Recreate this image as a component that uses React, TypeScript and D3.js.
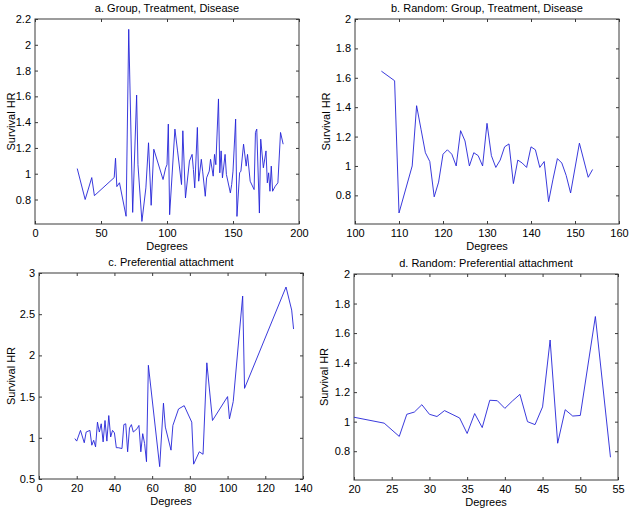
import React, { useEffect, useRef } from 'react'
import * as d3 from 'd3'

// a. Group, Treatment, Disease
const degreesA = [32, 38, 43, 45, 60, 61, 62, 64, 69, 71, 74, 77, 78, 81, 84, 86, 88, 90, 97, 99, 100, 101, 102, 106, 108, 111, 112, 114, 117, 119, 120, 121, 123, 124, 126, 127, 129, 130, 132, 133, 135, 136, 137, 139, 140, 141, 142, 144, 145, 148, 149, 150, 152, 153, 155, 156, 158, 160, 161, 163, 166, 167, 168, 170, 171, 173, 175, 176, 177, 178, 179, 180, 182, 184, 186, 188]
const hrA = [1.04, 0.8, 0.97, 0.83, 0.97, 1.12, 0.9, 0.93, 0.67, 2.12, 0.7, 1.61, 1.07, 0.63, 0.89, 1.24, 0.755, 1.19, 0.955, 1.046, 1.07, 1.385, 0.682, 1.346, 1.177, 0.916, 1.333, 0.812, 1.098, 1.15, 1.033, 0.89, 1.359, 0.942, 1.112, 1.02, 0.825, 0.968, 1.02, 1.112, 0.981, 1.15, 1.07, 1.58, 1.007, 1.177, 0.968, 1.15, 0.994, 0.851, 0.916, 1.02, 1.424, 0.669, 1.007, 1.02, 1.229, 1.059, 1.15, 0.942, 0.877, 1.32, 1.346, 0.695, 1.268, 1.046, 1.177, 0.929, 1.007, 0.864, 1.059, 0.864, 0.903, 0.929, 1.32, 1.229]

// b. Random: Group, Treatment, Disease
const degreesB = [106, 109, 110, 113, 114, 115, 116, 117, 118, 119, 120, 121, 122, 123, 124, 125, 126, 127, 128, 129, 130, 131, 132, 133, 134, 135, 136, 137, 138, 139, 140, 141, 142, 143, 144, 145, 146, 147, 148, 149, 151, 153, 154]
const hrB = [1.645, 1.58, 0.68, 1.0, 1.41, 1.25, 1.09, 1.03, 0.79, 0.89, 1.08, 1.11, 1.08, 1.0, 1.24, 1.17, 1.0, 1.09, 1.07, 1.0, 1.29, 1.07, 0.99, 1.04, 1.13, 1.15, 0.88, 1.04, 1.02, 0.99, 1.13, 1.11, 0.99, 1.03, 0.757, 0.91, 1.05, 1.02, 0.935, 0.816, 1.155, 0.923, 0.976]

// c. Preferential attachment
const degreesC = [19, 20, 22, 24, 25, 27, 28, 29, 30, 31, 32, 33, 34, 35, 36, 37, 38, 39, 40, 41, 42, 44, 45, 46, 47, 48, 49, 50, 52, 53, 54, 55, 56, 57, 58, 64, 66, 67, 70, 71, 74, 77, 81, 82, 85, 87, 89, 92, 100, 101, 103, 108, 109, 131, 134, 135]
const hrC = [0.99, 0.96, 1.09, 0.94, 1.07, 1.09, 0.91, 0.97, 0.89, 1.19, 1.07, 1.17, 0.95, 1.21, 0.96, 1.27, 1.01, 1.09, 1.06, 0.88, 0.88, 0.87, 1.16, 1.17, 0.83, 1.12, 1.16, 1.07, 1.11, 1.15, 0.83, 1.05, 0.93, 0.71, 1.88, 0.65, 1.42, 1.13, 0.85, 1.15, 1.35, 1.39, 1.19, 0.68, 0.83, 0.8, 1.91, 1.21, 1.5, 1.23, 1.44, 2.72, 1.6, 2.83, 2.55, 2.32]

// d. Random: Preferential attachment
const degreesD = [20, 24, 26, 27, 28, 29, 30, 31, 32, 33, 34, 35, 36, 37, 38, 39, 40, 41, 42, 43, 44, 45, 46, 47, 48, 49, 50, 52, 54]
const hrD = [1.03, 0.99, 0.9, 1.05, 1.065, 1.115, 1.05, 1.035, 1.075, 1.05, 1.025, 0.92, 1.055, 0.96, 1.145, 1.142, 1.09, 1.14, 1.185, 1.0, 0.98, 1.1, 1.553, 0.854, 1.081, 1.038, 1.042, 1.712, 0.759]

const xTicksA = [0, 50, 100, 150, 200]
const yTicksA = [0.8, 1, 1.2, 1.4, 1.6, 1.8, 2, 2.2]
const xTicksB = [100, 110, 120, 130, 140, 150, 160]
const yTicksB = [0.8, 1, 1.2, 1.4, 1.6, 1.8, 2]
const xTicksC = [0, 20, 40, 60, 80, 100, 120, 140]
const yTicksC = [0.5, 1, 1.5, 2, 2.5, 3]
const xTicksD = [20, 25, 30, 35, 40, 45, 50, 55]
const yTicksD = [0.8, 1, 1.2, 1.4, 1.6, 1.8, 2]

const FONT = 'Liberation Sans, Arial, sans-serif'
const axisColor = '#3a3a3a'
const lineColor = '#2424d8'

interface Panel {
  title: string
  xs: number[]
  ys: number[]
  xDomain: [number, number]
  yDomain: [number, number]
  xTicks: number[]
  yTicks: number[]
  left: number
  right: number
  top: number
  bottom: number
  yLabelX: number
}

const panels: Panel[] = [
  { title: 'a. Group, Treatment, Disease', xs: degreesA, ys: hrA, xDomain: [0, 200], yDomain: [0.61, 2.2],
    xTicks: xTicksA, yTicks: yTicksA, left: 35, right: 299, top: 19, bottom: 224, yLabelX: 12 },
  { title: 'b. Random: Group, Treatment, Disease', xs: degreesB, ys: hrB, xDomain: [100, 160], yDomain: [0.605, 2],
    xTicks: xTicksB, yTicks: yTicksB, left: 355, right: 619, top: 19, bottom: 224, yLabelX: 327 },
  { title: 'c. Preferential attachment', xs: degreesC, ys: hrC, xDomain: [0, 140], yDomain: [0.5, 3],
    xTicks: xTicksC, yTicks: yTicksC, left: 39, right: 303, top: 273, bottom: 479, yLabelX: 12 },
  { title: 'd. Random: Preferential attachment', xs: degreesD, ys: hrD, xDomain: [20, 55], yDomain: [0.605, 2],
    xTicks: xTicksD, yTicks: yTicksD, left: 354, right: 618, top: 274, bottom: 480, yLabelX: 325 },
]

function drawPanel(svg: d3.Selection<SVGSVGElement, unknown, null, undefined>, p: Panel) {
  const x = d3.scaleLinear().domain(p.xDomain).range([p.left, p.right])
  const y = d3.scaleLinear().domain(p.yDomain).range([p.bottom, p.top])
  const fmt = d3.format('~g')
  const g = svg.append('g')

  const styleAxis = (sel: d3.Selection<SVGGElement, unknown, null, undefined>) => {
    sel.select('.domain').remove()
    sel.selectAll('line').attr('stroke', axisColor)
    sel.attr('font-family', FONT).attr('font-size', 11)
    sel.selectAll('text').attr('fill', '#000')
  }

  // inward ticks on all four sides, labels bottom and left
  g.append('g')
    .attr('transform', `translate(0,${p.bottom})`)
    .call(d3.axisBottom(x).tickValues(p.xTicks).tickSize(-3).tickSizeOuter(0).tickPadding(5).tickFormat(d => fmt(d as number)))
    .call(styleAxis)
  g.append('g')
    .attr('transform', `translate(0,${p.top})`)
    .call(d3.axisTop(x).tickValues(p.xTicks).tickSize(-3).tickSizeOuter(0).tickFormat(() => ''))
    .call(styleAxis)
  g.append('g')
    .attr('transform', `translate(${p.left},0)`)
    .call(d3.axisLeft(y).tickValues(p.yTicks).tickSize(-3).tickSizeOuter(0).tickPadding(4).tickFormat(d => fmt(d as number)))
    .call(styleAxis)
  g.append('g')
    .attr('transform', `translate(${p.right},0)`)
    .call(d3.axisRight(y).tickValues(p.yTicks).tickSize(-3).tickSizeOuter(0).tickFormat(() => ''))
    .call(styleAxis)

  // box
  g.append('rect')
    .attr('x', p.left)
    .attr('y', p.top)
    .attr('width', p.right - p.left)
    .attr('height', p.bottom - p.top)
    .attr('fill', 'none')
    .attr('stroke', axisColor)
    .attr('stroke-width', 1)

  const line = d3.line<number>()
    .x((_, i) => x(p.xs[i]))
    .y(d => y(d))
  g.append('path')
    .datum(p.ys)
    .attr('d', line)
    .attr('fill', 'none')
    .attr('stroke', lineColor)
    .attr('stroke-width', 0.9)

  g.append('text')
    .attr('x', (p.left + p.right) / 2)
    .attr('y', p.top - 7)
    .attr('text-anchor', 'middle')
    .attr('font-family', FONT)
    .attr('font-size', 11)
    .text(p.title)

  g.append('text')
    .attr('x', (p.left + p.right) / 2)
    .attr('y', p.bottom + 26)
    .attr('text-anchor', 'middle')
    .attr('font-family', FONT)
    .attr('font-size', 11)
    .text('Degrees')

  g.append('text')
    .attr('transform', `translate(${p.yLabelX},${(p.top + p.bottom) / 2}) rotate(-90)`)
    .attr('text-anchor', 'middle')
    .attr('dominant-baseline', 'middle')
    .attr('font-family', FONT)
    .attr('font-size', 11)
    .text('Survival HR')
}

export default function App() {
  const svgRef = useRef<SVGSVGElement>(null)

  useEffect(() => {
    if (!svgRef.current) return
    const svg = d3.select(svgRef.current)
    svg.selectAll('*').remove()
    panels.forEach(p => drawPanel(svg, p))
  }, [])

  return (
    <svg
      ref={svgRef}
      width={630}
      height={511}
      style={{ position: 'absolute', left: 0, top: 0, background: '#fff' }}
    />
  )
}
